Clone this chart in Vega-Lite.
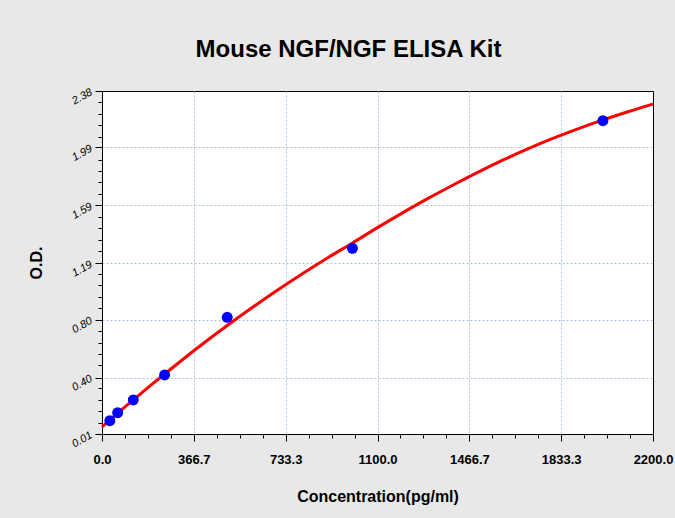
{
  "$schema": "https://vega.github.io/schema/vega-lite/v6.json",
  "width": 551,
  "height": 343,
  "autosize": {"type": "none"},
  "padding": {"left": 102, "top": 91, "right": 22, "bottom": 84},
  "background": "#e8e8e8",
  "config": {
    "view": {"fill": "white", "stroke": "black", "strokeWidth": 1}
  },
  "title": {
    "text": "Mouse NGF/NGF ELISA Kit",
    "font": "Liberation Sans",
    "fontSize": 24,
    "fontWeight": "bold",
    "color": "black",
    "anchor": "middle",
    "frame": "group",
    "dx": -29,
    "offset": 24
  },
  "datasets": {
    "curve": [
      {"conc": 0, "od": 0.060}, {"conc": 25, "od": 0.098}, {"conc": 50, "od": 0.135},
      {"conc": 100, "od": 0.209}, {"conc": 150, "od": 0.282}, {"conc": 200, "od": 0.354},
      {"conc": 300, "od": 0.494}, {"conc": 400, "od": 0.630}, {"conc": 500, "od": 0.760},
      {"conc": 600, "od": 0.884}, {"conc": 700, "od": 1.003}, {"conc": 800, "od": 1.117},
      {"conc": 900, "od": 1.226}, {"conc": 1000, "od": 1.330}, {"conc": 1100, "od": 1.436},
      {"conc": 1200, "od": 1.538}, {"conc": 1300, "od": 1.636}, {"conc": 1400, "od": 1.729},
      {"conc": 1500, "od": 1.818}, {"conc": 1600, "od": 1.902}, {"conc": 1700, "od": 1.980},
      {"conc": 1800, "od": 2.052}, {"conc": 1900, "od": 2.118}, {"conc": 2000, "od": 2.180},
      {"conc": 2100, "od": 2.237}, {"conc": 2200, "od": 2.290}
    ],
    "points": [
      {"conc": 31.25, "od": 0.102}, {"conc": 62.5, "od": 0.157}, {"conc": 125, "od": 0.245},
      {"conc": 250, "od": 0.418}, {"conc": 500, "od": 0.816}, {"conc": 1000, "od": 1.293},
      {"conc": 2000, "od": 2.175}
    ]
  },
  "layer": [
    {
      "data": {"name": "curve"},
      "mark": {"type": "line", "color": "#ff0000", "strokeWidth": 3, "interpolate": "monotone"},
      "encoding": {
        "x": {
          "field": "conc", "type": "quantitative",
          "scale": {"domain": [0, 2200], "nice": false, "zero": false},
          "axis": {
            "orient": "bottom",
            "values": [0, 366.67, 733.33, 1100, 1466.67, 1833.33, 2200],
            "format": ".1f",
            "title": "Concentration(pg/ml)",
            "titleFont": "Liberation Sans", "titleFontSize": 16, "titleFontWeight": "bold", "titleColor": "black",
            "titlePadding": 22,
            "labelFont": "Liberation Sans", "labelFontSize": 13, "labelFontWeight": "bold", "labelColor": "black",
            "labelPadding": 12, "labelFlush": false, "labelOverlap": false,
            "tickSize": 7, "tickColor": "black", "domainColor": "black",
            "grid": true, "gridColor": "#a9c4e4", "gridDash": [2, 2],
            "gridOpacity": {"condition": {"test": "datum.value <= 0 || datum.value >= 2200", "value": 0}, "value": 1}
          }
        },
        "y": {
          "field": "od", "type": "quantitative",
          "scale": {"domain": [0.01, 2.38], "nice": false, "zero": false},
          "axis": {
            "orient": "left",
            "values": [0.01, 0.4, 0.8, 1.19, 1.59, 1.99, 2.38],
            "format": ".2f",
            "title": "O.D.",
            "titleFont": "Liberation Sans", "titleFontSize": 16, "titleFontWeight": "bold", "titleColor": "black",
            "titlePadding": 25,
            "labelFont": "Liberation Sans", "labelFontSize": 11, "labelFontStyle": "italic", "labelColor": "black",
            "labelAngle": -30, "labelPadding": 4, "labelFlush": false, "labelOverlap": false,
            "tickSize": 7, "tickColor": "black", "domainColor": "black",
            "grid": true, "gridColor": "#a9c4e4", "gridDash": [2, 2],
            "gridOpacity": {"condition": {"test": "datum.value <= 0.01 || datum.value >= 2.38", "value": 0}, "value": 1}
          }
        }
      }
    },
    {
      "data": {"name": "points"},
      "mark": {"type": "circle", "color": "#0000ff", "opacity": 1, "size": 120},
      "encoding": {
        "x": {
          "field": "conc", "type": "quantitative",
          "scale": {"domain": [0, 2200], "nice": false, "zero": false},
          "axis": {
            "orient": "bottom",
            "values": [91.67, 183.33, 275, 458.33, 550, 641.67, 825, 916.67, 1008.33, 1191.67, 1283.33, 1375, 1558.33, 1650, 1741.67, 1925, 2016.67, 2108.33],
            "labels": false, "grid": false, "domain": false, "title": null,
            "tickSize": 4, "tickColor": "black"
          }
        },
        "y": {
          "field": "od", "type": "quantitative",
          "scale": {"domain": [0.01, 2.38], "nice": false, "zero": false},
          "axis": {
            "orient": "left",
            "values": [0.089, 0.168, 0.247, 0.326, 0.484, 0.563, 0.642, 0.721, 0.879, 0.958, 1.037, 1.116, 1.274, 1.353, 1.432, 1.511, 1.669, 1.748, 1.827, 1.906, 2.064, 2.143, 2.222, 2.301],
            "labels": false, "grid": false, "domain": false, "title": null,
            "tickSize": 4, "tickColor": "black"
          }
        }
      }
    }
  ],
  "resolve": {"axis": {"x": "independent", "y": "independent"}}
}
